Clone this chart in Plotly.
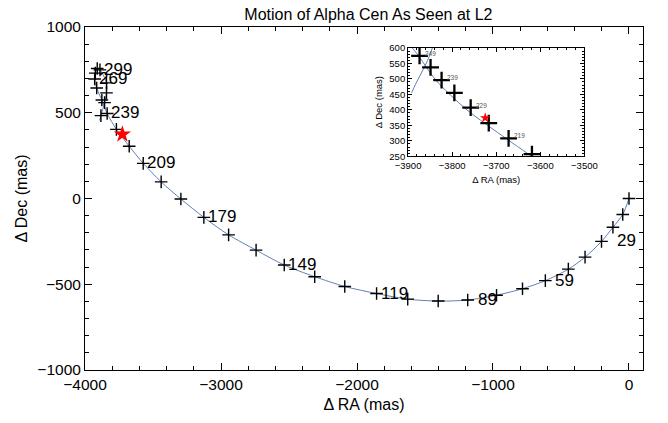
import plotly.graph_objects as go

# ---- data (mas) ----
# main track, one marker every 10 days
ra_main = [0, -46, -118, -202, -323, -446, -615, -783, -974, -1186, -1403, -1627,
           -1856, -2090, -2311, -2535, -2742, -2944, -3126, -3295, -3440, -3572,
           -3675, -3769, -3837, -3876, -3914, -3929, -3924, -3910, -3890, -3842,
           -3842, -3856, -3883]
dec_main = [0, -93, -168, -250, -342, -412, -479, -526, -564, -592, -598, -587,
            -554, -513, -456, -388, -301, -212, -110, -3, 97, 205, 305, 403, 496,
            574, 644, 697, 731, 758, 750, 674, 616, 559, 483]
days_main = [-1 + 10 * i for i in range(len(ra_main))]
label_days_main = [29, 59, 89, 119, 149, 179, 209, 239, 269, 299]

# end of the model curve beyond the last marker
ra_tail = [-3892]
dec_tail = [455]

# inset, one marker every 5 days
ra_in = [-3619, -3672, -3717, -3758, -3795, -3824, -3849, -3874]
dec_in = [257, 308, 357, 407, 455, 496, 537, 574]
days_in = [214, 219, 224, 229, 234, 239, 244, 249]
label_days_in = [219, 229, 239, 249]

# star position
star_ra = [-3725]
star_dec = [374]

BLUE = "#5E81B5"
FONT = "Liberation Sans, Arial, sans-serif"
# extra horizontal nudge (px) of a few day labels, as placed in the original
LABEL_NUDGE = {29: 11, 59: 6, 89: 6}

ra_curve = ra_main + ra_tail
dec_curve = dec_main + dec_tail

fig = go.Figure()

# main plot
fig.add_trace(go.Scatter(x=ra_curve, y=dec_curve, mode="lines",
                         line=dict(color=BLUE, width=1, shape="spline", smoothing=0.8),
                         xaxis="x", yaxis="y", hoverinfo="skip"))
fig.add_trace(go.Scatter(x=ra_main, y=dec_main, mode="markers",
                         marker=dict(symbol="cross-thin", size=9,
                                     line=dict(color="black", width=1.4)),
                         xaxis="x", yaxis="y"))
fig.add_trace(go.Scatter(x=star_ra, y=star_dec, mode="markers",
                         marker=dict(symbol="star", size=13, color="#FF0000",
                                     line=dict(width=0)),
                         xaxis="x", yaxis="y"))

# inset
fig.add_trace(go.Scatter(x=ra_curve, y=dec_curve, mode="lines",
                         line=dict(color=BLUE, width=1, shape="spline", smoothing=0.8),
                         xaxis="x2", yaxis="y2", hoverinfo="skip"))
fig.add_trace(go.Scatter(x=ra_in, y=dec_in, mode="markers",
                         marker=dict(symbol="cross-thin", size=12,
                                     line=dict(color="black", width=2.3)),
                         xaxis="x2", yaxis="y2"))
fig.add_trace(go.Scatter(x=star_ra, y=star_dec, mode="markers",
                         marker=dict(symbol="star", size=8, color="#FF0000",
                                     line=dict(width=0)),
                         xaxis="x2", yaxis="y2"))

annotations = []
for d in label_days_main:
    i = days_main.index(d)
    annotations.append(dict(x=ra_main[i], y=dec_main[i], xref="x", yref="y",
                            text=str(d), showarrow=False, xanchor="left",
                            yanchor="bottom", xshift=2 + LABEL_NUDGE.get(d, 0),
                            yshift=-11,
                            font=dict(family=FONT, size=17, color="black")))
for d in label_days_in:
    i = days_in.index(d)
    annotations.append(dict(x=ra_in[i], y=dec_in[i], xref="x2", yref="y2",
                            text=str(d), showarrow=False, xanchor="left",
                            yanchor="bottom", xshift=3, yshift=-3,
                            font=dict(family=FONT, size=6.5, color="#555555")))

axis_common = dict(showgrid=False, zeroline=False, showline=True, linecolor="black",
                   linewidth=1, mirror="allticks", ticks="inside", tickcolor="black")

fig.update_layout(
    width=668, height=423,
    margin=dict(l=85, r=16, t=27, b=45),
    paper_bgcolor="white", plot_bgcolor="white",
    showlegend=False,
    font=dict(family=FONT, color="black"),
    title=dict(text="Motion of Alpha Cen As Seen at L2", x=0.5515, xanchor="center",
               y=0.967, yanchor="middle", font=dict(size=16, family=FONT)),
    xaxis=dict(range=[-4000, 103], dtick=1000, tick0=0, ticklen=7,
               minor=dict(dtick=200, ticklen=4, ticks="inside", tickcolor="black"),
               tickfont=dict(size=15.5), domain=[0, 1],
               title=dict(text="Δ RA (mas)", font=dict(size=16), standoff=7),
               **axis_common),
    yaxis=dict(range=[-1000, 1000], dtick=500, tick0=0, ticklen=7,
               minor=dict(dtick=100, ticklen=4, ticks="inside", tickcolor="black"),
               tickfont=dict(size=15.5), domain=[0, 1],
               title=dict(text="Δ Dec (mas)", font=dict(size=16), standoff=5),
               **axis_common),
    xaxis2=dict(range=[-3900, -3500], dtick=100, tick0=0, ticklen=4,
                minor=dict(dtick=20, ticklen=2, ticks="inside", tickcolor="black"),
                tickfont=dict(size=9.5), domain=[0.579, 0.895], anchor="y2",
                title=dict(text="Δ RA (mas)", font=dict(size=9.5), standoff=6),
                **axis_common),
    yaxis2=dict(range=[250, 600], dtick=50, tick0=0, ticklen=4,
                minor=dict(dtick=10, ticklen=2, ticks="inside", tickcolor="black"),
                tickfont=dict(size=9.5), domain=[0.623, 0.939], anchor="x2",
                title=dict(text="Δ Dec (mas)", font=dict(size=9.5), standoff=4),
                **axis_common),
    annotations=annotations,
)

fig.write_html("out.html")
